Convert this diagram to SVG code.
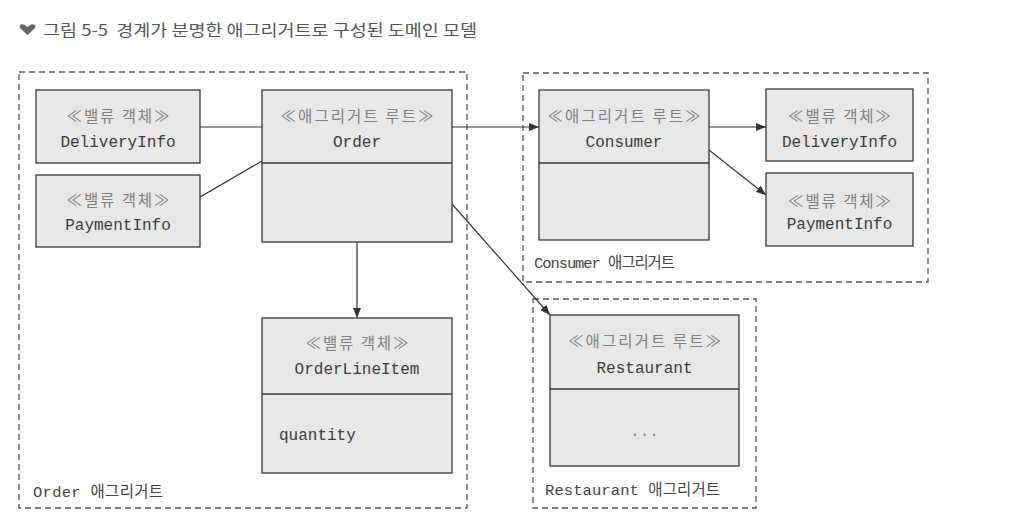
<svg xmlns="http://www.w3.org/2000/svg" width="1019" height="531" viewBox="0 0 1019 531">
<style>
.box{fill:#e8e8e8;stroke:#3a3a3a;stroke-width:1.3}
.div{stroke:#3a3a3a;stroke-width:1.3}
.bound{fill:none;stroke:#555;stroke-width:1.3;stroke-dasharray:6 4}
.st{font-family:"Noto Sans CJK KR","DejaVu Sans",sans-serif;font-size:15.5px;fill:#808080;text-anchor:middle}
.nm{font-family:"Liberation Mono","Noto Sans CJK KR",monospace;font-size:16px;fill:#3c3c3c;text-anchor:middle}
.lbl{font-family:"Liberation Mono","Noto Sans CJK KR",monospace;font-size:15.5px;fill:#444}
.conn{stroke:#333;stroke-width:1.2;fill:none}
.title{font-family:"Noto Sans CJK KR","Noto Sans",sans-serif;font-size:16px;fill:#555}
</style>
<defs>
<marker id="arr" viewBox="0 0 10 8" refX="10" refY="4" markerWidth="10" markerHeight="8" markerUnits="userSpaceOnUse" orient="auto">
<path d="M0,0 L10,4 L0,8 Z" fill="#333"/>
</marker>
</defs>
<rect width="1019" height="531" fill="#ffffff"/>
<g id="title">
<path d="M27.5,35 L20.5,28.5 C19,27 19.5,24.5 22,24.3 C24,24.1 25.5,25.3 27.5,27.3 C29.5,25.3 31,24.1 33,24.3 C35.5,24.5 36,27 34.5,28.5 Z" fill="#666"/>
<text class="title" x="43" y="36" textLength="434" lengthAdjust="spacingAndGlyphs">그림 5-5&#160; 경계가 분명한 애그리거트로 구성된 도메인 모델</text>
</g>
<g id="order-aggregate">
<rect class="bound" x="19" y="72" width="448" height="436"/>
<text class="lbl" x="33" y="497" textLength="130" lengthAdjust="spacing">Order 애그리거트</text>
</g>
<g id="consumer-aggregate">
<rect class="bound" x="523" y="73" width="405" height="209"/>
<text class="lbl" x="534" y="268" textLength="141" lengthAdjust="spacing">Consumer 애그리거트</text>
</g>
<g id="restaurant-aggregate">
<rect class="bound" x="533" y="299" width="223" height="209"/>
<text class="lbl" x="545" y="495" textLength="175" lengthAdjust="spacing">Restaurant 애그리거트</text>
</g>
<g id="connectors">
<line class="conn" x1="200" y1="127" x2="262" y2="127"/>
<line class="conn" x1="200" y1="197" x2="262" y2="161"/>
<line class="conn" x1="452" y1="127" x2="539" y2="127" marker-end="url(#arr)"/>
<line class="conn" x1="357" y1="242" x2="357" y2="318" marker-end="url(#arr)"/>
<line class="conn" x1="452" y1="204" x2="550" y2="315" marker-end="url(#arr)"/>
<line class="conn" x1="709" y1="127" x2="766" y2="127" marker-end="url(#arr)"/>
<line class="conn" x1="709" y1="150" x2="766" y2="195" marker-end="url(#arr)"/>
</g>
<g id="deliveryinfo-order">
<rect class="box" x="36" y="90" width="164" height="73"/>
<text class="st" x="118" y="122" textLength="103" lengthAdjust="spacing">≪밸류 객체≫</text>
<text class="nm" x="118" y="147">DeliveryInfo</text>
</g>
<g id="paymentinfo-order">
<rect class="box" x="36" y="175" width="164" height="72"/>
<text class="st" x="118" y="206" textLength="103" lengthAdjust="spacing">≪밸류 객체≫</text>
<text class="nm" x="118" y="230">PaymentInfo</text>
</g>
<g id="order">
<rect class="box" x="262" y="90" width="190" height="152"/>
<line class="div" x1="262" y1="163" x2="452" y2="163"/>
<text class="st" x="357" y="122" textLength="153" lengthAdjust="spacing">≪애그리거트 루트≫</text>
<text class="nm" x="357" y="147">Order</text>
</g>
<g id="orderlineitem">
<rect class="box" x="262" y="318" width="190" height="155"/>
<line class="div" x1="262" y1="394" x2="452" y2="394"/>
<text class="st" x="357" y="349" textLength="103" lengthAdjust="spacing">≪밸류 객체≫</text>
<text class="nm" x="357" y="374">OrderLineItem</text>
<text class="nm" x="279" y="440" style="text-anchor:start">quantity</text>
</g>
<g id="consumer">
<rect class="box" x="539" y="90" width="170" height="150"/>
<line class="div" x1="539" y1="163" x2="709" y2="163"/>
<text class="st" x="624" y="122" textLength="153" lengthAdjust="spacing">≪애그리거트 루트≫</text>
<text class="nm" x="624" y="147">Consumer</text>
</g>
<g id="deliveryinfo-consumer">
<rect class="box" x="766" y="89" width="147" height="72"/>
<text class="st" x="839.5" y="122" textLength="103" lengthAdjust="spacing">≪밸류 객체≫</text>
<text class="nm" x="839.5" y="147">DeliveryInfo</text>
</g>
<g id="paymentinfo-consumer">
<rect class="box" x="766" y="173" width="147" height="73"/>
<text class="st" x="839.5" y="207" textLength="103" lengthAdjust="spacing">≪밸류 객체≫</text>
<text class="nm" x="839.5" y="229">PaymentInfo</text>
</g>
<g id="restaurant">
<rect class="box" x="550" y="315" width="189" height="151"/>
<line class="div" x1="550" y1="389" x2="739" y2="389"/>
<text class="st" x="644.5" y="347" textLength="153" lengthAdjust="spacing">≪애그리거트 루트≫</text>
<text class="nm" x="644.5" y="373">Restaurant</text>
<text class="nm" x="644.5" y="436" style="fill:#888">...</text>
</g>
</svg>
